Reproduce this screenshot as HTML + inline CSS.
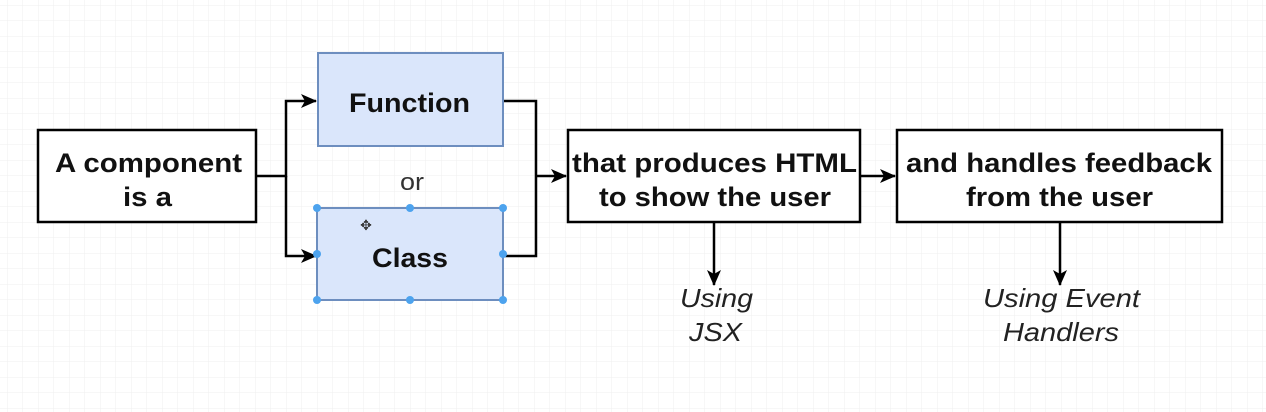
<!DOCTYPE html>
<html><head><style>
html,body{margin:0;padding:0;background:#fff;}
svg{display:block;}
text{font-family:"Liberation Sans",Arial,sans-serif;}
</style></head><body>
<svg width="1266" height="412" viewBox="0 0 1266 412" xmlns="http://www.w3.org/2000/svg">
<defs>
<pattern id="g" width="15.5" height="15.5" patternUnits="userSpaceOnUse" x="7" y="5">
<path d="M0 0H15.5M0 0V15.5" stroke="#efefef" stroke-width="1" fill="none"/>
</pattern>
<marker id="a" markerWidth="16" markerHeight="16" refX="15" refY="8" orient="auto" markerUnits="userSpaceOnUse">
<path d="M0 1L16 8L0 15L4 8Z" fill="#000"/>
</marker>
</defs>
<rect width="1266" height="412" fill="url(#g)"/>
<g stroke="#000" stroke-width="2.5" fill="none">
<path d="M256 176H286V101H316" marker-end="url(#a)"/>
<path d="M286 176V256H316" marker-end="url(#a)"/>
<path d="M503 101H536V256H503"/>
<path d="M536 176H566" marker-end="url(#a)"/>
<path d="M860 176H895" marker-end="url(#a)"/>
<path d="M714 222V285" marker-end="url(#a)"/>
<path d="M1060 222V285" marker-end="url(#a)"/>
</g>
<rect x="38" y="130" width="218" height="92" fill="#fff" stroke="#000" stroke-width="2.5"/>
<rect x="318" y="53" width="185" height="93" fill="#dae6fb" stroke="#6d8ebf" stroke-width="2"/>
<rect x="317" y="208" width="186" height="92" fill="#dae6fb" stroke="#6d8ebf" stroke-width="2"/>
<rect x="568" y="130" width="292" height="92" fill="#fff" stroke="#000" stroke-width="2.5"/>
<rect x="897" y="130" width="325" height="92" fill="#fff" stroke="#000" stroke-width="2.5"/>
<g fill="#4da3ee">
<circle cx="317" cy="208" r="4"/><circle cx="410" cy="208" r="4"/><circle cx="503" cy="208" r="4"/>
<circle cx="317" cy="254" r="4"/><circle cx="503" cy="254" r="4"/>
<circle cx="317" cy="300" r="4"/><circle cx="410" cy="300" r="4"/><circle cx="503" cy="300" r="4"/>
</g>
<g font-weight="bold" font-size="27" fill="#111" lengthAdjust="spacingAndGlyphs">
<text x="55" y="172" textLength="187" lengthAdjust="spacingAndGlyphs">A component</text>
<text x="123" y="206" textLength="49" lengthAdjust="spacingAndGlyphs">is a</text>
<text x="349" y="112" textLength="121" lengthAdjust="spacingAndGlyphs">Function</text>
<text x="372" y="267" textLength="76" lengthAdjust="spacingAndGlyphs">Class</text>
<text x="572" y="172" textLength="285" lengthAdjust="spacingAndGlyphs">that produces HTML</text>
<text x="599" y="206" textLength="232" lengthAdjust="spacingAndGlyphs">to show the user</text>
<text x="906" y="172" textLength="306" lengthAdjust="spacingAndGlyphs">and handles feedback</text>
<text x="966" y="206" textLength="187" lengthAdjust="spacingAndGlyphs">from the user</text>
</g>
<text x="400" y="190" font-size="24" fill="#333" textLength="24" lengthAdjust="spacingAndGlyphs">or</text>
<text x="366" y="230" font-size="14" text-anchor="middle" fill="#333">✥</text>
<g font-style="italic" font-size="26" fill="#222">
<text x="680" y="307" textLength="73" lengthAdjust="spacingAndGlyphs">Using</text>
<text x="689" y="341" textLength="53" lengthAdjust="spacingAndGlyphs">JSX</text>
<text x="983" y="307" textLength="157" lengthAdjust="spacingAndGlyphs">Using Event</text>
<text x="1003" y="341" textLength="116" lengthAdjust="spacingAndGlyphs">Handlers</text>
</g>
</svg>
</body></html>
